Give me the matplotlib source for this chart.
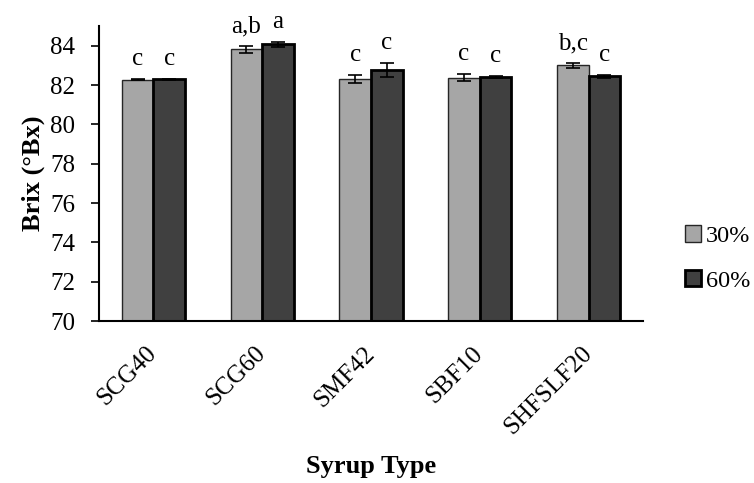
import matplotlib.pyplot as plt
import numpy as np

# Dados
syrups = ["SCG40", "SCG60", "SMF42", "SBF10", "SHFSLF20"]
brix_30 = [82.27, 83.81, 82.30, 82.37, 83.00]
brix_60 = [82.28, 84.06, 82.78, 82.40, 82.44]
err_30 = [0.03, 0.17, 0.19, 0.18, 0.12]
err_60 = [0.03, 0.14, 0.36, 0.05, 0.06]
letters_30 = ["c", "a,b", "c", "c", "b,c"]
letters_60 = ["c", "a", "c", "c", "c"]
series_labels = ["30%", "60%"]

plt.rcParams['font.family'] = ['Liberation Serif', 'DejaVu Serif']
fs = 18

fig = plt.figure(figsize=(7.54, 4.83), dpi=100)
ax = fig.add_axes([99 / 754, 1 - 321 / 483, 544 / 754, 295 / 483])

x = np.arange(len(syrups))
w = 0.29

ax.bar(x - w / 2, brix_30, w, color='#a6a6a6', edgecolor='#262626', linewidth=1.0,
       label=series_labels[0], zorder=2)
ax.bar(x + w / 2, brix_60, w, color='#404040', edgecolor='black', linewidth=2.0,
       label=series_labels[1], zorder=2)
ax.errorbar(x - w / 2, brix_30, yerr=err_30, fmt='none', ecolor='black', elinewidth=1.2,
            capsize=5, capthick=1.2, zorder=3)
ax.errorbar(x + w / 2, brix_60, yerr=err_60, fmt='none', ecolor='black', elinewidth=1.2,
            capsize=5, capthick=1.2, zorder=3)

# Letras de significância
for xi, v, e, t in zip(x - w / 2, brix_30, err_30, letters_30):
    ax.annotate(t, (xi, v + e), xytext=(0, 10), textcoords='offset points',
                ha='center', va='baseline', fontsize=fs)
for xi, v, e, t in zip(x + w / 2, brix_60, err_60, letters_60):
    ax.annotate(t, (xi, v + e), xytext=(0, 10), textcoords='offset points',
                ha='center', va='baseline', fontsize=fs)

ax.set_ylim(70, 85)
ax.set_xlim(-0.5, len(syrups) - 0.5)
ax.set_yticks(np.arange(70, 85, 2))
ax.tick_params(axis='y', labelsize=fs, length=6, width=1.2, direction='out', pad=11)
ax.tick_params(axis='x', length=0, labelsize=fs, pad=21)
ax.set_xticks(x)
ax.set_xticklabels(syrups, rotation=45, ha='right', va='center', rotation_mode='anchor')

for s in ['top', 'right']:
    ax.spines[s].set_visible(False)
for s in ['left', 'bottom']:
    ax.spines[s].set_linewidth(1.5)

ax.set_ylabel('Brix (°Bx)', fontsize=19, fontweight='bold', labelpad=4)
ax.set_xlabel('Syrup Type', fontsize=19, fontweight='bold', labelpad=12)

ax.legend(loc='center left', bbox_to_anchor=(685 / 754, 1 - 258.5 / 483),
          bbox_transform=fig.transFigure, frameon=False, fontsize=17.5,
          borderaxespad=0, borderpad=0,
          handlelength=0.65, handleheight=0.65, handletextpad=0.2, labelspacing=0.95)

fig.savefig('out.png', dpi=100)
